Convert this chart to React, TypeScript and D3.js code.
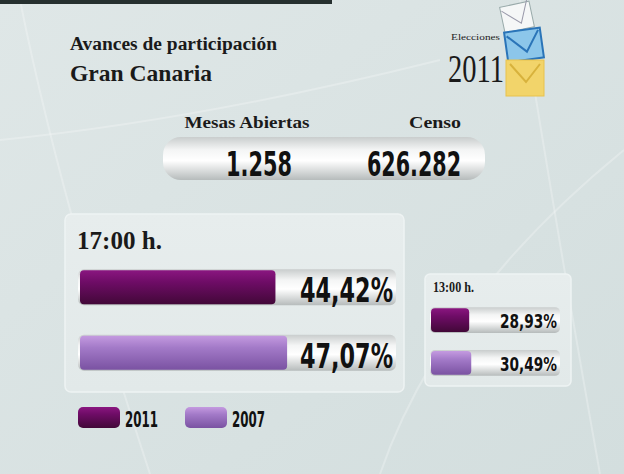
import React from 'react';
import * as d3 from 'd3';

const years = ['2011', '2007'];
const values17 = [44.42, 47.07];
const values13 = [28.93, 30.49];
const headLabels = ['Mesas Abiertas', 'Censo'];
const headValues = [1258, 626282];
const hourLabels = ['17:00 h.', '13:00 h.'];

const es = d3.formatLocale({ decimal: ',', thousands: '.', grouping: [3], currency: ['', '€'] });
const fmtPct = (v: number) => es.format(',.2f')(v) + '%';
const fmtInt = es.format(',d');

const serif = "'Liberation Serif', 'DejaVu Serif', serif";
const narrow = "'Liberation Sans Narrow', 'DejaVu Sans Condensed', 'Liberation Sans', sans-serif";

export default function App() {
  const W = 624, H = 474;
  const colors = d3.scaleOrdinal<string, string>().domain(years).range(['url(#gDark)', 'url(#gLight)']);
  const xMain = d3.scaleLinear().domain([0, 100]).range([0, 440]);
  const xSmall = d3.scaleLinear().domain([0, 100]).range([0, 132]);
  const yMain = d3.scaleBand().domain(years).range([266, 374]).paddingInner(0.45).paddingOuter(0.05);
  const ySmall = d3.scaleBand().domain(years).range([305, 378]).paddingInner(0.4).paddingOuter(0.05);

  return (
    <svg width={W} height={H} style={{ position: 'absolute', left: 0, top: 0 }}>
      <defs>
        <linearGradient id="bg" x1="0" y1="0" x2="1" y2="1">
          <stop offset="0" stopColor="#dfe7e7" />
          <stop offset="1" stopColor="#d3dede" />
        </linearGradient>
        <linearGradient id="gDark" x1="0" y1="0" x2="0" y2="1">
          <stop offset="0" stopColor="#8a1680" />
          <stop offset="0.35" stopColor="#6e0c66" />
          <stop offset="1" stopColor="#420838" />
        </linearGradient>
        <linearGradient id="gLight" x1="0" y1="0" x2="0" y2="1">
          <stop offset="0" stopColor="#c49ae0" />
          <stop offset="0.35" stopColor="#a37ac8" />
          <stop offset="1" stopColor="#7a52a2" />
        </linearGradient>
        <linearGradient id="track" x1="0" y1="0" x2="0" y2="1">
          <stop offset="0" stopColor="#c9cdcd" />
          <stop offset="0.3" stopColor="#f4f5f5" />
          <stop offset="0.55" stopColor="#ffffff" />
          <stop offset="1" stopColor="#b6bbbb" />
        </linearGradient>
        <linearGradient id="panel" x1="0" y1="0" x2="0" y2="1">
          <stop offset="0" stopColor="#e7eded" />
          <stop offset="1" stopColor="#e2e9e9" />
        </linearGradient>
      </defs>
      <rect width={W} height={H} fill="url(#bg)" />
      {/* faint decorative lines */}
      <g stroke="#ffffff" strokeOpacity={0.25} fill="none" strokeWidth={2}>
        <path d="M 20 0 Q 60 200 150 474" />
        <path d="M 380 474 Q 440 300 624 150" />
        <path d="M 520 0 Q 560 250 600 474" />
        <path d="M 0 140 Q 200 120 440 60" />
      </g>
      <rect x={0} y={0} width={332} height={4} fill="#26302f" />

      {/* titles */}
      <text x={70} y={50} fontFamily={serif} fontWeight="bold" fontSize={18} fill="#1a1a1a" textLength={207} lengthAdjust="spacingAndGlyphs">Avances de participación</text>
      <text x={70} y={81} fontFamily={serif} fontWeight="bold" fontSize={24} fill="#1a1a1a" textLength={142} lengthAdjust="spacingAndGlyphs">Gran Canaria</text>

      {/* logo */}
      <g>
        <rect x={502} y={4} width={30} height={26} fill="#f5f7f7" stroke="#9aa" strokeWidth={1} transform="rotate(-12 517 17)" />
        <path d="M 503 8 L 520 24 L 530 2" stroke="#99a" fill="none" transform="rotate(-12 517 17)" />
        <rect x={506} y={30} width={36} height={30} fill="#8cc6ea" stroke="#2a74b8" strokeWidth={2} transform="rotate(-8 524 45)" />
        <path d="M 508 34 L 526 52 L 540 32" stroke="#2a74b8" strokeWidth={2} fill="none" transform="rotate(-8 524 45)" />
        <rect x={506} y={60} width={38} height={36} fill="#f2d46a" stroke="#e8c24c" strokeWidth={1} />
        <path d="M 510 64 L 526 82 L 540 64" stroke="#d8b23c" strokeWidth={2} fill="none" />
        <text x={451} y={40} fontFamily={serif} fontSize={9} fill="#222" textLength={49} lengthAdjust="spacingAndGlyphs">Elecciones</text>
        <text x={448} y={82} fontFamily={serif} fontSize={40} fill="#1a1a1a" textLength={56} lengthAdjust="spacingAndGlyphs">2011</text>
      </g>

      {/* header numbers */}
      <text x={247} y={128} textAnchor="middle" fontFamily={serif} fontWeight="bold" fontSize={17} fill="#1a1a1a" textLength={125} lengthAdjust="spacingAndGlyphs">{headLabels[0]}</text>
      <text x={435} y={128} textAnchor="middle" fontFamily={serif} fontWeight="bold" fontSize={17} fill="#1a1a1a" textLength={52} lengthAdjust="spacingAndGlyphs">{headLabels[1]}</text>
      <rect x={163} y={137} width={322} height={43} rx={18} fill="url(#track)" />
      <text x={259} y={176} textAnchor="middle" fontFamily={narrow} fontWeight="bold" fontSize={34} fill="#111" textLength={66} lengthAdjust="spacingAndGlyphs">{fmtInt(headValues[0])}</text>
      <text x={414} y={176} textAnchor="middle" fontFamily={narrow} fontWeight="bold" fontSize={34} fill="#111" textLength={94} lengthAdjust="spacingAndGlyphs">{fmtInt(headValues[1])}</text>

      {/* main panel 17:00 */}
      <rect x={65} y={214} width={339} height={178} rx={6} fill="url(#panel)" stroke="#eef3f3" strokeWidth={1.5} />
      <text x={77} y={249} fontFamily={serif} fontWeight="bold" fontSize={25} fill="#1a1a1a" textLength={85} lengthAdjust="spacingAndGlyphs">{hourLabels[0]}</text>
      {years.map((yr, i) => {
        const y = yMain(yr)!;
        const h = yMain.bandwidth();
        return (
          <g key={yr}>
            <rect x={78} y={y} width={318} height={h} rx={6} fill="url(#track)" />
            <rect x={80} y={y + 1} width={xMain(values17[i])} height={h - 2} rx={4} fill={colors(yr)} />
            <text x={393} y={y + h - 3} textAnchor="end" fontFamily={narrow} fontWeight="bold" fontSize={33} fill="#111" textLength={93} lengthAdjust="spacingAndGlyphs">{fmtPct(values17[i])}</text>
          </g>
        );
      })}

      {/* small panel 13:00 */}
      <rect x={425} y={274} width={146} height={112} rx={5} fill="url(#panel)" stroke="#eef3f3" strokeWidth={1.5} />
      <text x={433} y={292} fontFamily={serif} fontWeight="bold" fontSize={14} fill="#1a1a1a" textLength={41} lengthAdjust="spacingAndGlyphs">{hourLabels[1]}</text>
      {years.map((yr, i) => {
        const y = ySmall(yr)!;
        const h = ySmall.bandwidth();
        return (
          <g key={yr}>
            <rect x={430} y={y} width={130} height={h} rx={5} fill="url(#track)" />
            <rect x={431} y={y + 1} width={xSmall(values13[i])} height={h - 2} rx={4} fill={colors(yr)} />
            <text x={557} y={y + h - 5} textAnchor="end" fontFamily={narrow} fontWeight="bold" fontSize={19} fill="#111" textLength={57} lengthAdjust="spacingAndGlyphs">{fmtPct(values13[i])}</text>
          </g>
        );
      })}

      {/* legend */}
      {years.map((yr, i) => {
        const x = 78 + i * 107;
        return (
          <g key={yr}>
            <rect x={x} y={407} width={42} height={21} rx={5} fill={colors(yr)} />
            <text x={x + 47} y={427} fontFamily={narrow} fontWeight="bold" fontSize={22} fill="#111" textLength={33} lengthAdjust="spacingAndGlyphs">{yr}</text>
          </g>
        );
      })}
    </svg>
  );
}
